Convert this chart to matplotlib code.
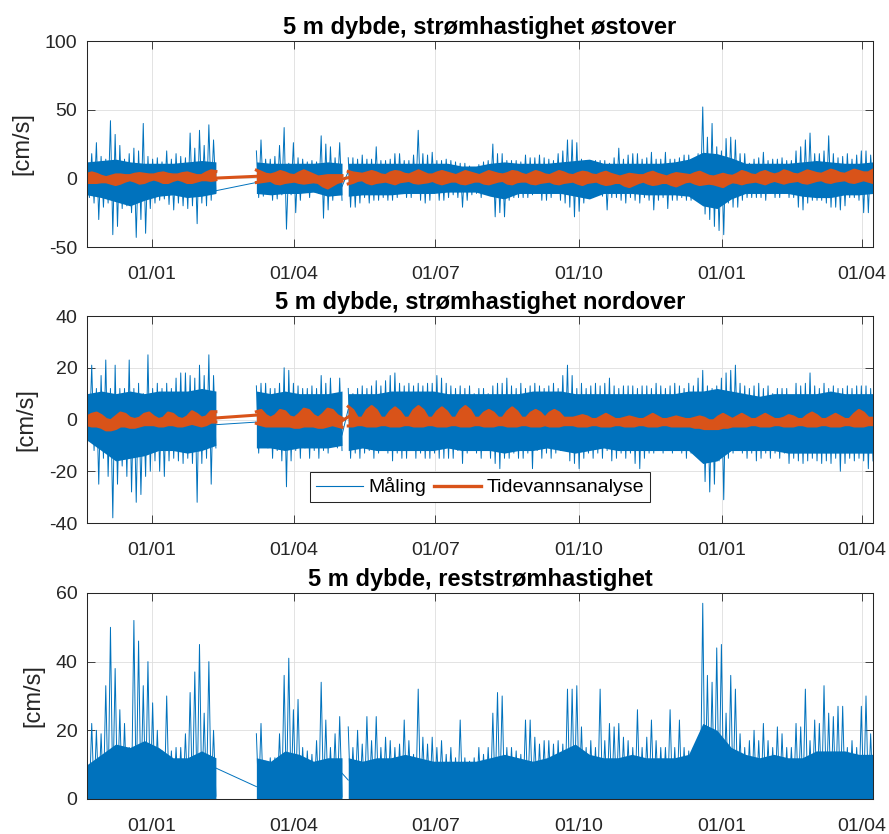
import numpy as np
import matplotlib
matplotlib.use("Agg")
import matplotlib.pyplot as plt
import matplotlib.dates as mdates
from matplotlib.lines import Line2D

plt.rcParams["font.family"] = ["Liberation Sans", "DejaVu Sans"]
plt.rcParams["axes.unicode_minus"] = False

BLUE = "#0072BD"
ORANGE = "#D95319"
AXCOL = "#262626"

# ── record segments (instrument out of water between them) ───────────────────
SEG_START = ["2019-11-20 06:00", "2020-03-08", "2020-05-06"]
SEG_END = ["2020-02-11", "2020-05-02", "2021-04-08"]
XTICKS = ["2020-01-01", "2020-04-01", "2020-07-01", "2020-10-01", "2021-01-01", "2021-04-01"]

TITLES = ["5 m dybde, strømhastighet østover",
          "5 m dybde, strømhastighet nordover",
          "5 m dybde, reststrømhastighet"]
YLIMS = [(-50, 100), (-40, 40), (0, 60)]
YSTEP = [50, 20, 20]
LABELS = ["Måling", "Tidevannsanalyse"]

# ── east component: 3-day max / min of the measurement [cm/s] ─────────────────
EAST_HI = [
    [15, 18, 26, 16, 14, 42, 32, 24, 14, 18, 22, 20, 40, 16, 14, 15, 12, 20, 14, 18,
     16, 15, 33, 22, 35, 24, 39, 28],
    [20, 28, 14, 14, 16, 24, 37, 11, 26, 15, 14, 12, 13, 12, 31, 25, 23, 15, 26],
    [15, 15, 14, 17, 14, 14, 23, 13, 13, 14,
     18, 18, 13, 13, 17, 35, 18, 17, 19, 13,
     13, 14, 13, 12, 11, 11, 9, 8, 10, 12,
     13, 25, 18, 18, 13, 13, 13, 12, 17, 15,
     15, 17, 15, 14, 13, 18, 20, 28, 28, 26,
     14, 13, 13, 13, 13, 13, 11, 15, 22, 14,
     17, 18, 18, 14, 15, 19, 14, 14, 19, 14,
     14, 15, 17, 17, 13, 18, 52, 30, 40, 23,
     20, 29, 30, 28, 18, 18, 11, 14, 15, 19,
     13, 14, 14, 15, 13, 13, 20, 23, 28, 33,
     18, 18, 20, 31, 18, 15, 16, 18, 14, 17,
     20, 20, 17],
]
EAST_LO = [
    [-14, -18, -30, -21, -18, -41, -35, -22, -20, -25, -43, -30, -40, -22, -18, -16, -15, -19, -23, -18,
     -20, -22, -20, -33, -18, -20, -16, -10],
    [-14, -13, -11, -16, -15, -12, -37, -12, -25, -16, -10, -14, -10, -11, -29, -23, -16, -10, -16],
    [-21, -21, -18, -14, -18, -16, -16, -14, -16, -16,
     -14, -11, -14, -14, -11, -16, -18, -16, -11, -16,
     -16, -14, -12, -14, -21, -16, -12, -11, -14, -11,
     -12, -28, -25, -28, -16, -14, -14, -14, -14, -12,
     -11, -16, -16, -14, -11, -16, -18, -21, -28, -24,
     -18, -14, -14, -11, -13, -23, -14, -14, -16, -18,
     -14, -16, -18, -14, -16, -23, -16, -14, -22, -16,
     -16, -14, -16, -16, -14, -16, -26, -30, -35, -38,
     -41, -18, -21, -21, -16, -14, -14, -14, -14, -16,
     -11, -14, -14, -11, -14, -14, -21, -23, -18, -16,
     -16, -16, -18, -21, -21, -23, -20, -14, -14, -16,
     -25, -25, -11],
]
# dense part of the east signal (about 9-day steps)
EAST_CORE_HI = [
    [12, 13, 14, 12, 11, 11, 11, 12, 13, 12],
    [12, 11, 11, 11, 11, 12, 11],
    [11, 11, 11, 11, 11, 11, 11, 11, 9, 9, 11, 12, 11, 11, 11, 12, 13, 14, 11, 11,
     11, 11, 11, 12, 14, 19, 18, 15, 11, 11, 11, 11, 12, 13, 12, 11, 11, 12],
]
EAST_CORE_LO = [
    [-12, -14, -17, -20, -16, -13, -12, -14, -13, -11],
    [-11, -12, -11, -11, -10, -13, -12],
    [-13, -12, -12, -12, -11, -11, -11, -10, -10, -10, -13, -15, -11, -11, -11, -11, -13, -15, -11, -11,
     -11, -12, -12, -12, -13, -20, -22, -15, -11, -11, -11, -11, -13, -14, -14, -12, -12, -11],
]
EAST_GAP = [(-9, -3), (-6, 5)]
# tidal prediction, east: centre and half range of the band (3-day steps)
EAST_TIDE_MID = [
    [0, 0.5, 0, -0.5, -1, -1, -1, -0.5, 0, 0.5, 0.5, 0, 0, 0.5, 1, 1, 0.5, 0, 0.5, 1,
     1, 0.5, 0, 0, 0.5, 1.5, 2, 2],
    [1.5, 1, 0.5, 0.5, 0, 0.5, 0.5, 0, 0, 0.5, 1, 0.5, 0, -1, -2, -2.5, -1.5, -0.5, 0],
    [0.5, 0.5, 1, 1, 0.5, 0.5, 0.5, 0, 0, 0.5,
     0.5, 1, 0.5, 0.5, 0.5, 1, 0.5, 0, 0.5, 0.5,
     0.5, 0.5, 0.5, 0, 0, 0.5, 0.5, 0.5, 0, 0,
     0.5, 0.5, 0.5, 0.5, 0, 0.5, 1, 0.5, 0, 0,
     0.5, 0.5, 0, 0, 0, 0.5, 0.5, 0, 0, 0,
     0, 0.5, 0, 0, 0, 0, -0.5, -0.5, -1, -1.5,
     -1.5, -1, -0.5, 0, 0, 0, -0.5, -0.5, -1, -1,
     -1, -0.5, 0, 0, 0, 0, -0.5, -1, -1.5, -1.5,
     -1.5, -1, -0.5, 0, 0.5, 0.5, 0, 0, 0.5, 0.5,
     0.5, 0.5, 0.5, 1, 1, 0.5, 0.5, 0.5, 1, 1,
     1, 1, 1, 1.5, 1.5, 1, 1, 1, 1.5, 1.5,
     1.5, 1, 1.5],
]
EAST_TIDE_AMP = [
    [3, 3.5, 3, 2, 1.5, 2.5, 3.5, 3, 2, 1.5, 2.5, 3.5, 3, 2, 1.5, 2.5, 3.5, 3, 2, 1.5,
     2.5, 3.5, 3, 2, 1.5, 2.5, 3.5, 3],
    [4.5, 3.5, 2.5, 2, 3.5, 4.5, 3.5, 2.5, 2, 3.5, 4.5, 3.5, 2.5, 2, 3.5, 4.5, 3.5, 2.5, 2],
    [4.5, 3.5, 2.5, 2, 3.5, 4.5, 3.5, 2.5, 2, 3.5,
     4.5, 3.5, 2.5, 2, 3.5, 4.5, 3.5, 2.5, 2, 3.5,
     4.5, 3.5, 2.5, 2, 3.5, 4.5, 3.5, 2.5, 2, 3.5,
     4.5, 3.5, 2.5, 2, 3.5, 4.5, 3.5, 2.5, 2, 3.5,
     4.5, 3.5, 2.5, 2, 3.5, 4.5, 3.5, 2.5, 2, 3.5,
     4.5, 3.5, 2.5, 2, 3.5, 4.5, 3.5, 2.5, 2, 3.5,
     4.5, 3.5, 2.5, 2, 3.5, 4.5, 3.5, 2.5, 2, 3.5,
     4.5, 3.5, 2.5, 2, 3.5, 4.5, 3.5, 2.5, 2.5, 3.5,
     4.5, 3, 2, 3, 4.5, 3.5, 2.5, 2, 3.5, 4.5,
     3, 2, 3, 4.5, 3.5, 2.5, 2, 3.5, 4.5, 3.5,
     2.5, 2, 3.5, 4.5, 3.5, 2.5, 2, 3.5, 4.5, 3.5,
     2.5, 3, 4.5],
]
EAST_TIDE_GAP = [(0.2, 1.5), (-0.5, 0.5)]

# ── north component ───────────────────────────────────────────────────────────
NORTH_HI = [
    [12, 21, 12, 17, 23, 12, 21, 12, 12, 23, 12, 14, 10, 25, 12, 14, 12, 14, 12, 16,
     18, 18, 17, 16, 21, 17, 25, 17],
    [13, 14, 14, 12, 12, 14, 20, 19, 14, 13, 12, 12, 13, 12, 17, 14, 16, 10, 16],
    [12, 10, 12, 13, 12, 13, 15, 13, 15, 17,
     18, 14, 13, 14, 13, 14, 13, 14, 14, 17,
     16, 14, 13, 12, 13, 12, 13, 10, 12, 12,
     10, 13, 14, 14, 16, 13, 12, 14, 12, 13,
     14, 13, 12, 13, 14, 12, 17, 21, 17, 12,
     14, 12, 13, 14, 13, 14, 16, 13, 12, 13,
     13, 13, 12, 13, 13, 12, 14, 13, 12, 13,
     14, 13, 12, 14, 13, 16, 19, 13, 12, 13,
     16, 18, 19, 21, 14, 13, 12, 13, 14, 12,
     13, 10, 12, 12, 12, 9, 14, 13, 14, 18,
     13, 12, 14, 12, 13, 12, 12, 13, 12, 13,
     13, 13, 12],
]
NORTH_LO = [
    [-8, -12, -25, -15, -22, -38, -25, -18, -22, -28, -32, -29, -22, -20, -16, -20, -22, -16, -15, -16,
     -17, -15, -17, -32, -17, -15, -25, -11],
    [-13, -9, -11, -15, -12, -16, -26, -16, -12, -15, -11, -15, -12, -15, -12, -13, -9, -11, -12],
    [-15, -13, -15, -13, -12, -15, -13, -12, -13, -16,
     -13, -15, -15, -12, -15, -13, -15, -15, -13, -15,
     -15, -15, -15, -12, -17, -13, -12, -13, -15, -12,
     -15, -17, -19, -15, -15, -13, -15, -15, -13, -19,
     -12, -15, -13, -15, -13, -12, -12, -16, -17, -19,
     -15, -13, -15, -13, -15, -12, -16, -15, -13, -15,
     -13, -17, -19, -15, -13, -13, -12, -13, -12, -13,
     -12, -13, -15, -13, -13, -12, -24, -28, -25, -16,
     -31, -15, -13, -12, -13, -15, -13, -16, -15, -13,
     -15, -13, -15, -13, -17, -15, -16, -17, -16, -15,
     -16, -17, -16, -17, -15, -20, -17, -15, -16, -15,
     -16, -19, -16],
]
NORTH_CORE_HI = [
    [10, 11, 10, 11, 10, 11, 11, 11, 12, 11],
    [11, 10, 11, 10, 10, 10, 11],
    [10, 10, 10, 11, 11, 11, 11, 10, 10, 10, 10, 10, 10, 11, 11, 11, 10, 10, 10, 10,
     10, 10, 10, 10, 11, 11, 12, 11, 10, 9, 10, 10, 10, 10, 11, 10, 10, 10],
]
NORTH_CORE_LO = [
    [-8, -12, -16, -15, -14, -12, -12, -13, -12, -10],
    [-11, -11, -12, -11, -11, -11, -10],
    [-12, -11, -12, -12, -12, -12, -12, -11, -12, -12, -12, -13, -12, -12, -11, -12, -13, -12, -11, -12,
     -12, -12, -12, -12, -12, -17, -16, -12, -12, -12, -12, -13, -13, -13, -13, -13, -13, -13],
]
NORTH_GAP = [(-2, -1), (-6, 4)]
NORTH_TIDE_HI = [
    [1, 2, 2.5, 1.5, 0, -0.5, 1, 2.5, 2, 0.5, 0, 0.5, 2, 2.5, 1, 0, 0.5, 2.5, 2, 0.5,
     0, 1, 3, 2, 0.5, 1, 3, 3],
    [3, 3.5, 1.5, 0.5, 1.5, 3.5, 3, 1, 0.5, 2, 4, 3.5, 1.5, 0.5, 2, 4, 3.5, 1.5, 0.5],
    [5, 3.5, 0.5, 0.5, 3.5, 5, 3.5, 0.5, 0.5, 3,
     4.5, 3, 0.5, 0.5, 3.5, 5, 3.5, 0.5, 0.5, 3,
     4.5, 3, 0.5, 0.5, 3.5, 5, 3.5, 0.5, 0.5, 2.5,
     3.5, 2.5, 0.5, 0.5, 3, 4.5, 3, 0.5, 0.5, 2.5,
     3.5, 2.5, 0.5, 2.5, 3.5, 2.5, 0.5, 0.5, 0.5, 1,
     1.5, 1, 0, 0, 1, 2, 1, 0, 0, 0.5,
     1, 0.5, 0, 0, 1, 2, 1, 0, 0, 0.5,
     1, 0.5, 0, 0, 0.5, 1, 0.5, -0.5, -0.5, 1,
     2, 1, 0, 1, 2, 1, 0, 0, 1, 2,
     1, 0, 0, 0.5, 1.5, 1, 0, 0, 1.5, 2.5,
     1.5, 0, 0, 1, 2, 1, 0, 0, 2, 3.5,
     2.5, 0.5, 0.5],
]
NORTH_TIDE_LO = [
    [-2, -2.5, -2.5, -3, -4, -4, -3.5, -2.5, -2.5, -3, -3, -2.5, -2, -2, -2, -2.5, -2.5, -2, -2, -2.5,
     -2.5, -2, -1.5, -2, -2.5, -2, -1, -1],
    [-1.5, -2, -2.5, -2.5, -2.5, -2.5, -2.5, -2.5, -3, -3, -2.5, -2.5, -2.5, -3, -3, -2.5, -2, -2.5, -3],
    [-2.5, -2.5, -2, -2, -2.5, -2.5, -2.5, -2, -2, -2.5,
     -2.5, -2.5, -2, -2, -2.5, -2.5, -2.5, -2, -2, -2.5,
     -2.5, -2.5, -2, -2, -2.5, -2.5, -2.5, -2, -2, -2.5,
     -2.5, -2.5, -2, -2, -2.5, -2.5, -2.5, -2, -2, -2.5,
     -2.5, -2.5, -2, -2.5, -2.5, -2.5, -2, -2, -2, -2.5,
     -2.5, -2.5, -2, -2, -2.5, -2.5, -2.5, -2, -2, -2.5,
     -2.5, -2.5, -2, -2, -2.5, -2.5, -2.5, -2, -2, -2.5,
     -2.5, -2.5, -2.5, -2.5, -3, -3, -3.5, -3.5, -3.5, -3.5,
     -3, -3, -2.5, -2.5, -2.5, -2.5, -2, -2, -2.5, -2.5,
     -2.5, -2, -2, -2.5, -2.5, -2.5, -2, -2, -2.5, -2.5,
     -2.5, -2, -2, -2.5, -2.5, -2.5, -2, -2, -2.5, -2.5,
     -2.5, -2, -2],
]
NORTH_TIDE_GAP = [(0.6, 1.7), (-0.5, 1)]

# ── residual current speed ────────────────────────────────────────────────────
RESID_HI = [
    [12, 22, 20, 19, 33, 50, 38, 26, 22, 15, 52, 46, 33, 40, 28, 20, 14, 30, 14, 15,
     15, 19, 31, 37, 45, 25, 40, 20],
    [19, 22, 11, 12, 12, 19, 36, 41, 26, 29, 15, 14, 13, 17, 34, 23, 15, 19, 24],
    [21, 15, 20, 16, 24, 17, 24, 15, 18, 17,
     15, 16, 23, 17, 13, 32, 18, 16, 18, 15,
     17, 13, 15, 12, 23, 12, 11, 12, 15, 13,
     15, 25, 31, 30, 15, 15, 14, 13, 23, 23,
     18, 16, 17, 17, 16, 17, 16, 32, 32, 33,
     21, 15, 17, 15, 32, 17, 22, 21, 22, 18,
     17, 15, 26, 15, 18, 23, 17, 15, 15, 26,
     15, 23, 15, 14, 15, 15, 57, 36, 34, 44,
     45, 25, 36, 32, 19, 15, 17, 20, 17, 22,
     17, 15, 21, 19, 15, 15, 22, 21, 32, 17,
     23, 22, 33, 25, 24, 27, 27, 15, 17, 15,
     27, 30, 19],
]
RESID_LO = [
    [0.5, 0.8, 0.3, 0.6, 0.4, 0.7, 0.5, 0.3, 0.6, 0.8, 0.4, 0.5, 0.7, 0.3, 0.5, 0.6, 0.4, 0.8, 0.5, 0.3,
     0.6, 0.7, 0.4, 0.5, 0.3, 0.6, 0.5, 0.8],
    [0.4, 0.6, 0.3, 0.5, 0.7, 0.4, 0.5, 0.3, 0.6, 0.5, 0.4, 0.7, 0.3, 0.5, 0.6, 0.4, 0.5, 0.3, 0.6],
    [0.5, 0.3, 0.6, 0.4, 0.7, 0.5, 0.3, 0.6, 0.4, 0.5,
     0.8, 0.4, 0.3, 0.6, 0.5, 0.4, 0.7, 0.3, 0.5, 0.6,
     0.4, 0.5, 0.3, 0.7, 0.5, 0.4, 0.6, 0.3, 0.5, 0.8,
     0.4, 0.6, 0.3, 0.5, 0.4, 0.7, 0.5, 0.3, 0.6, 0.4,
     0.5, 0.3, 0.6, 0.8, 0.4, 0.5, 0.3, 0.6, 0.4, 0.5,
     0.7, 0.3, 0.5, 0.6, 0.4, 0.5, 0.3, 0.7, 0.4, 0.6,
     0.5, 0.3, 0.6, 0.4, 0.5, 0.8, 0.3, 0.5, 0.6, 0.4,
     0.5, 0.3, 0.7, 0.4, 0.5, 0.6, 0.3, 0.5, 0.4, 0.6,
     0.5, 0.3, 0.6, 0.4, 0.7, 0.5, 0.3, 0.6, 0.4, 0.5,
     0.6, 0.3, 0.5, 0.4, 0.7, 0.5, 0.3, 0.6, 0.4, 0.5,
     0.3, 0.6, 0.4, 0.5, 0.7, 0.3, 0.5, 0.6, 0.4, 0.5,
     0.3, 0.6, 0.4],
]
RESID_CORE = [
    [10, 13, 16, 15, 17, 15, 12, 12, 14, 12],
    [12, 11, 14, 13, 11, 12, 12],
    [12, 11, 12, 12, 13, 12, 11, 11, 11, 11, 12, 13, 12, 11, 12, 14, 16, 13, 12, 12,
     13, 12, 12, 12, 13, 22, 20, 15, 13, 12, 13, 12, 12, 14, 14, 14, 13, 13],
]
RESID_GAP = [(9, 3.6), (7.5, 5.5)]


def seg_span(i):
    return mdates.datestr2num(SEG_START[i]), mdates.datestr2num(SEG_END[i])


def gap_x(i):
    return [seg_span(i)[1], seg_span(i + 1)[0]]


def draw_measured(ax, hi, lo, core_hi, core_lo, gaps):
    for i in range(3):
        t0, t1 = seg_span(i)
        tc = np.linspace(t0, t1, len(core_hi[i]))
        if core_lo is None:
            ax.fill_between(tc, core_hi[i], color=BLUE, lw=0, zorder=2)
        else:
            ax.fill_between(tc, core_lo[i], core_hi[i], color=BLUE, lw=0, zorder=2)
        n = min(len(hi[i]), len(lo[i]))
        x = np.linspace(t0, t1, 2 * n)
        y = np.empty(2 * n)
        y[0::2] = hi[i][:n]
        y[1::2] = lo[i][:n]
        ax.plot(x, y, color=BLUE, lw=0.7, zorder=2)
    for i, g in enumerate(gaps):
        ax.plot(gap_x(i), g, color=BLUE, lw=0.7, zorder=2)


def draw_tide(ax, hi, lo, gaps):
    for i in range(3):
        t0, t1 = seg_span(i)
        t = np.linspace(t0, t1, len(hi[i]))
        ax.fill_between(t, lo[i], hi[i], color=ORANGE, lw=0, zorder=3)
        ax.plot(t, hi[i], color=ORANGE, lw=2.2, solid_joinstyle="round", zorder=3)
        ax.plot(t, lo[i], color=ORANGE, lw=2.2, solid_joinstyle="round", zorder=3)
    for i, g in enumerate(gaps):
        ax.plot(gap_x(i), g, color=ORANGE, lw=2.2, zorder=3)


fig = plt.figure(figsize=(8.89, 8.34), dpi=100)
axes = [fig.add_axes([0.0979, 0.7038, 0.8841, 0.2470]),
        fig.add_axes([0.0979, 0.3729, 0.8841, 0.2482]),
        fig.add_axes([0.0979, 0.0420, 0.8841, 0.2470])]

east_t_hi = [list(np.add(m, a)) for m, a in zip(EAST_TIDE_MID, EAST_TIDE_AMP)]
east_t_lo = [list(np.subtract(m, a)) for m, a in zip(EAST_TIDE_MID, EAST_TIDE_AMP)]

draw_measured(axes[0], EAST_HI, EAST_LO, EAST_CORE_HI, EAST_CORE_LO, EAST_GAP)
draw_tide(axes[0], east_t_hi, east_t_lo, EAST_TIDE_GAP)
draw_measured(axes[1], NORTH_HI, NORTH_LO, NORTH_CORE_HI, NORTH_CORE_LO, NORTH_GAP)
draw_tide(axes[1], NORTH_TIDE_HI, NORTH_TIDE_LO, NORTH_TIDE_GAP)
draw_measured(axes[2], RESID_HI, RESID_LO, RESID_CORE, None, RESID_GAP)

xticks = [mdates.datestr2num(d) for d in XTICKS]
for ax, title, ylim, step in zip(axes, TITLES, YLIMS, YSTEP):
    ax.set_xlim(seg_span(0)[0], seg_span(2)[1])
    ax.set_ylim(*ylim)
    ax.set_yticks(np.arange(ylim[0], ylim[1] + step, step))
    ax.set_xticks(xticks)
    ax.xaxis.set_major_formatter(mdates.DateFormatter("%d/%m"))
    ax.grid(True, color="#dedede", lw=0.6)
    ax.set_axisbelow(True)
    ax.tick_params(direction="in", length=5.8, width=0.6, colors=AXCOL,
                   labelsize=14, top=True, right=True)
    ax.tick_params(axis="x", pad=13.5)
    ax.tick_params(axis="y", pad=7)
    for s in ax.spines.values():
        s.set_color(AXCOL)
        s.set_linewidth(0.75)
        s.set_zorder(4)
    ax.set_title(title, fontsize=17, fontweight="bold", pad=5)
    ax.set_ylabel("[cm/s]", fontsize=17, color=AXCOL, labelpad=8)

handles = [Line2D([], [], color=BLUE, lw=0.8), Line2D([], [], color=ORANGE, lw=2.4)]
leg = axes[1].legend(handles, LABELS, loc="lower center", bbox_to_anchor=(0.5, 0.10),
                     ncol=2, fontsize=14, fancybox=False, framealpha=1,
                     edgecolor=AXCOL, borderpad=0.3, handlelength=2.4,
                     handletextpad=0.3, columnspacing=0.4, borderaxespad=0)
leg.get_frame().set_linewidth(0.75)
leg.set_zorder(5)

fig.savefig("out.png", dpi=100)
